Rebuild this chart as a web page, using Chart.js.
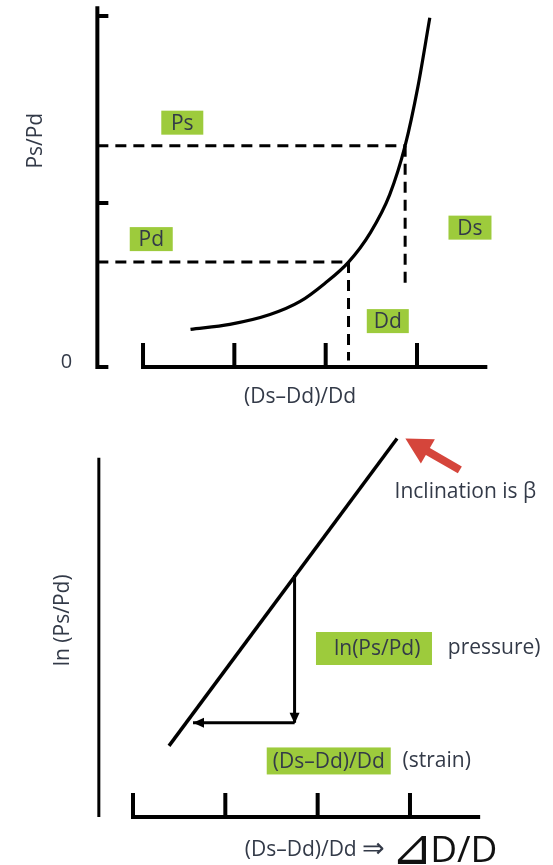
<!DOCTYPE html>
<html>
<head>
<meta charset="utf-8">
<script src="https://cdn.jsdelivr.net/npm/chart.js@4.4.1/dist/chart.umd.min.js"></script>
<style>
  body { margin: 0; background: #fff; width: 553px; height: 865px; overflow: hidden; position: relative; }
  .panel { position: absolute; left: 0; width: 553px; }
</style>
</head>
<body>
<div class="panel" style="top:0;height:420px"><canvas id="topChart" width="553" height="420"></canvas></div>
<div class="panel" style="top:420px;height:445px"><canvas id="bottomChart" width="553" height="445"></canvas></div>
<script>
// Top panel: Ps/Pd against (Ds-Dd)/Dd
const curveX = [1.52, 1.95, 2.39, 2.72, 2.99, 3.25, 3.49, 3.70, 3.87, 4.01, 4.14];
const curveY = [0.23, 0.26, 0.32, 0.40, 0.51, 0.64, 0.82, 1.05, 1.35, 1.71, 2.13];
const topXTicks = [1, 2, 3, 4];
const topYTicks = [0, 1, 2.14];
const psPoint = [3.87, 1.35];
const pdPoint = [3.25, 0.64];
const psDropTo = 0.5;
const pdDropTo = 0.04;
const topNotes = ['Ps', 'Pd', 'Ds', 'Dd'];
const topNoteX = [1.43, 1.09, 4.58, 3.68];
const topNoteY = [1.49, 0.78, 0.85, 0.28];

// Bottom panel: ln(Ps/Pd) against (Ds-Dd)/Dd
const lineX = [1.39, 3.86];
const lineY = [0.77, 4.10];
const bottomXTicks = [1, 2, 3, 4];
const dropX = [2.75, 2.75];
const dropY = [2.62, 1.02];
const runX = [2.75, 1.65];
const runY = [1.02, 1.02];
const redArrowX = [4.54, 3.95];
const redArrowY = [3.76, 4.10];

const GREEN = '#9dcb3c';
const TEXT = '#333a48';
const FONT = '"Open Sans", "Noto Sans", sans-serif';

const pts = (xs, ys) => xs.map((x, i) => ({ x, y: ys[i] }));

function lineSet(data, opts) {
  return Object.assign({
    data, showLine: true, pointRadius: 0, borderColor: '#000', borderWidth: 3, fill: false
  }, opts || {});
}

// green label box of fixed size, text centred (or left-offset)
function noteBox(ctx, text, cx, cy, w, h, size, textLeft) {
  ctx.fillStyle = GREEN;
  ctx.fillRect(cx - w / 2, cy - h / 2, w, h);
  ctx.font = size + 'px ' + FONT;
  ctx.fillStyle = TEXT;
  ctx.textBaseline = 'middle';
  if (textLeft != null) {
    ctx.textAlign = 'left';
    ctx.fillText(text, cx - w / 2 + textLeft, cy + 1);
  } else {
    ctx.textAlign = 'center';
    ctx.fillText(text, cx, cy + 1);
  }
}

function arrowHead(ctx, x0, y0, x1, y1, len, half, color) {
  const a = Math.atan2(y1 - y0, x1 - x0);
  ctx.fillStyle = color;
  ctx.beginPath();
  ctx.moveTo(x1, y1);
  ctx.lineTo(x1 - len * Math.cos(a) + half * Math.sin(a), y1 - len * Math.sin(a) - half * Math.cos(a));
  ctx.lineTo(x1 - len * Math.cos(a) - half * Math.sin(a), y1 - len * Math.sin(a) + half * Math.cos(a));
  ctx.closePath();
  ctx.fill();
}

function baseOptions(xmin, xmax, ymin, ymax) {
  return {
    responsive: false,
    animation: false,
    layout: { padding: 0 },
    plugins: { legend: { display: false }, tooltip: { enabled: false } },
    scales: {
      x: { type: 'linear', min: xmin, max: xmax, display: false },
      y: { type: 'linear', min: ymin, max: ymax, display: false }
    }
  };
}

// Top chart
const topAxes = {
  id: 'topAxes',
  afterDatasetsDraw(chart) {
    const ctx = chart.ctx;
    const px = v => chart.scales.x.getPixelForValue(v);
    const py = v => chart.scales.y.getPixelForValue(v);
    ctx.save();
    ctx.strokeStyle = '#000';
    ctx.lineWidth = 4;
    ctx.beginPath();
    ctx.moveTo(px(0.5), py(2.2));
    ctx.lineTo(px(0.5), py(0) + 2);
    topYTicks.forEach(t => { ctx.moveTo(px(0.5) - 2, py(t)); ctx.lineTo(px(0.5) + 11, py(t)); });
    ctx.moveTo(px(topXTicks[0]) - 2, py(0));
    ctx.lineTo(px(4.77), py(0));
    topXTicks.forEach(t => { ctx.moveTo(px(t), py(0)); ctx.lineTo(px(t), py(0) - 24); });
    ctx.stroke();

    ctx.fillStyle = TEXT;
    ctx.font = '20px ' + FONT;
    ctx.textAlign = 'center';
    ctx.textBaseline = 'middle';
    ctx.fillText('0', px(0.5) - 31, py(0) - 5);
    ctx.font = '21px ' + FONT;
    ctx.fillText('(Ds\u2013Dd)/Dd', px(2.72), py(0) + 30);
    ctx.save();
    ctx.translate(px(0.5) - 61, py(1.38));
    ctx.rotate(-Math.PI / 2);
    ctx.fillText('Ps/Pd', 0, 0);
    ctx.restore();

    const boxW = [42, 43, 43, 42];
    topNotes.forEach((t, i) => noteBox(ctx, t, px(topNoteX[i]), py(topNoteY[i]), boxW[i], 24, 21));
    ctx.restore();
  }
};

new Chart(document.getElementById('topChart'), {
  type: 'scatter',
  data: {
    datasets: [
      lineSet(pts(curveX, curveY), { cubicInterpolationMode: 'monotone', borderWidth: 3.2 }),
      lineSet(pts([0.5, psPoint[0]], [psPoint[1], psPoint[1]]), { borderDash: [11, 7] }),
      lineSet(pts([0.5, pdPoint[0]], [pdPoint[1], pdPoint[1]]), { borderDash: [11, 7] }),
      lineSet(pts([psPoint[0], psPoint[0]], [psPoint[1], psDropTo]), { borderDash: [11, 7] }),
      lineSet(pts([pdPoint[0], pdPoint[0]], [pdPoint[1], pdDropTo]), { borderDash: [11, 7] })
    ]
  },
  options: baseOptions(-0.566, 5.489, -0.323, 2.238),
  plugins: [topAxes]
});

// Bottom chart
const bottomAxes = {
  id: 'bottomAxes',
  afterDatasetsDraw(chart) {
    const ctx = chart.ctx;
    const px = v => chart.scales.x.getPixelForValue(v);
    const py = v => chart.scales.y.getPixelForValue(v);
    ctx.save();
    ctx.strokeStyle = '#000';
    ctx.lineWidth = 3;
    ctx.beginPath();
    ctx.moveTo(px(0.63), py(3.89));
    ctx.lineTo(px(0.63), py(0));
    ctx.stroke();
    ctx.lineWidth = 4;
    ctx.beginPath();
    ctx.moveTo(px(bottomXTicks[0]) - 2, py(0));
    ctx.lineTo(px(4.76), py(0));
    bottomXTicks.forEach(t => { ctx.moveTo(px(t), py(0)); ctx.lineTo(px(t), py(0) - 24); });
    ctx.stroke();

    // arrow heads on the drop / run lines
    arrowHead(ctx, px(dropX[0]), py(dropY[0]), px(dropX[1]), py(dropY[1]) + 1, 11, 5, '#000');
    arrowHead(ctx, px(runX[0]), py(runY[0]), px(runX[1]), py(runY[1]), 11, 5, '#000');

    // red pointer
    const rx0 = px(redArrowX[0]), ry0 = py(redArrowY[0]);
    const rx1 = px(redArrowX[1]), ry1 = py(redArrowY[1]);
    const a = Math.atan2(ry1 - ry0, rx1 - rx0);
    ctx.strokeStyle = '#d5453b';
    ctx.lineWidth = 8;
    ctx.beginPath();
    ctx.moveTo(rx0, ry0);
    ctx.lineTo(rx1 - 20 * Math.cos(a), ry1 - 20 * Math.sin(a));
    ctx.stroke();
    arrowHead(ctx, rx0, ry0, rx1, ry1, 26, 14, '#d5453b');

    ctx.fillStyle = TEXT;
    ctx.font = '21px ' + FONT;
    ctx.textBaseline = 'middle';
    ctx.textAlign = 'center';
    ctx.fillText('Inclination is \u03b2', px(4.6), py(3.52));
    ctx.save();
    ctx.translate(px(0.63) - 36, py(2.13));
    ctx.rotate(-Math.PI / 2);
    ctx.fillText('ln (Ps/Pd)', 0, 0);
    ctx.restore();

    noteBox(ctx, 'ln(Ps/Pd)', px(3.61), py(1.825), 116, 33, 21, 18);
    noteBox(ctx, '(Ds\u2013Dd)/Dd', px(3.12), py(0.607), 124, 27, 21);
    ctx.fillStyle = TEXT;
    ctx.font = '21px ' + FONT;
    ctx.textAlign = 'left';
    ctx.fillText('pressure)', px(4.41), py(1.83));
    ctx.fillText('(strain)', px(3.92), py(0.607));

    // axis title with the large delta-D/D
    ctx.textBaseline = 'alphabetic';
    ctx.font = '21px ' + FONT;
    const small = '(Ds\u2013Dd)/Dd ';
    const sx = px(2.21);
    let cx = sx;
    ctx.fillText(small, cx, py(0) + 39);
    cx += ctx.measureText(small).width;
    ctx.font = '27px ' + FONT;
    ctx.fillText('\u21d2', cx, py(0) + 40);
    cx += ctx.measureText('\u21d2').width + 6;
    ctx.fillStyle = '#111';
    ctx.font = '50px ' + FONT;
    ctx.fillText('\u22bf', cx, py(0) + 47);
    cx += ctx.measureText('\u22bf').width - 3;
    ctx.font = '37px ' + FONT;
    ctx.fillText('D/D', cx, py(0) + 45);
    ctx.restore();
  }
};

new Chart(document.getElementById('bottomChart'), {
  type: 'scatter',
  data: {
    datasets: [
      lineSet(pts(lineX, lineY), { borderWidth: 3.5 }),
      lineSet(pts(dropX, dropY)),
      lineSet(pts(runX, runY))
    ]
  },
  options: baseOptions(-0.4405, 5.549, -0.52, 4.30),
  plugins: [bottomAxes]
});
</script>
</body>
</html>
